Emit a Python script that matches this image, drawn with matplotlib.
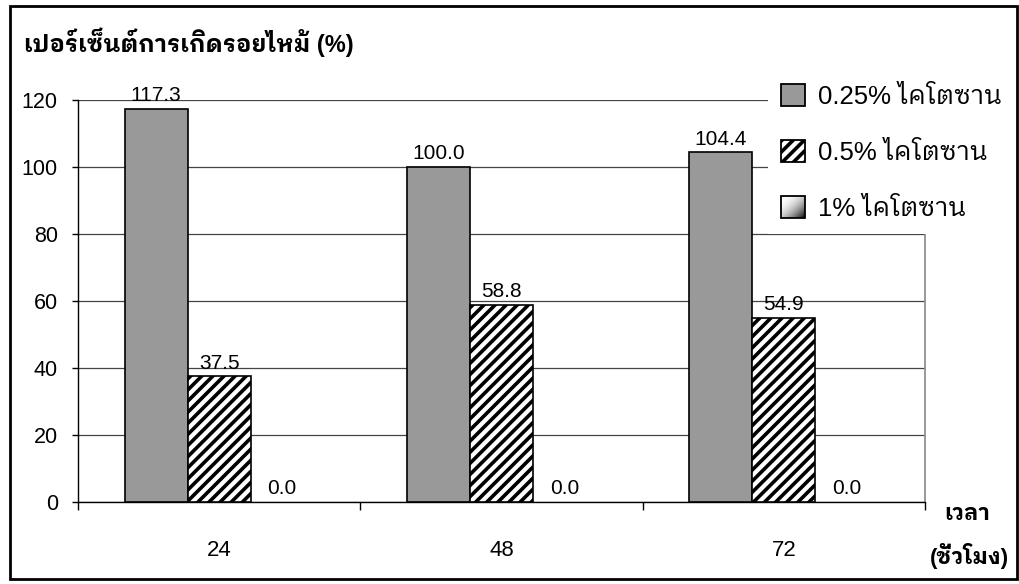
import numpy as np
import matplotlib
matplotlib.use("Agg")
import matplotlib.pyplot as plt
from matplotlib.patches import Patch, Rectangle
from matplotlib.legend_handler import HandlerBase
from matplotlib.image import BboxImage
from matplotlib.transforms import Bbox, TransformedBbox

# Latin text in an Arial-like face, Thai falls back to a looped Thai face
plt.rcParams['font.family'] = ['Liberation Sans', 'IBM Plex Sans Thai Looped', 'DejaVu Sans']
plt.rcParams['hatch.linewidth'] = 2.6

hours = ['24', '48', '72']
series = ['0.25% ไคโตซาน', '0.5% ไคโตซาน', '1% ไคโตซาน']
chitosan_025 = [117.3, 100.0, 104.4]
chitosan_05 = [37.5, 58.8, 54.9]
chitosan_1 = [0.0, 0.0, 0.0]


class GradientHandler(HandlerBase):
    # square shaded from white (top left) to black (bottom right)
    def create_artists(self, legend, orig_handle, xdescent, ydescent,
                       width, height, fontsize, trans):
        bb = TransformedBbox(Bbox.from_bounds(-xdescent, -ydescent, width, height), trans)
        g = np.linspace(0, 1, 64)
        shade = 1 - ((g[None, :] + g[:, None]) / 2) ** 2.2
        img = BboxImage(bb, cmap='gray', norm=plt.Normalize(0, 1), interpolation='bilinear')
        img.set_data(shade)
        edge = Rectangle((-xdescent, -ydescent), width, height, facecolor='none',
                         edgecolor='black', linewidth=1.3, transform=trans)
        return [img, edge]


fig = plt.figure(figsize=(10.2, 5.84), dpi=100)
ax = fig.add_axes([78 / 1020, 82 / 584, 847 / 1020, 402 / 584])

x = np.arange(len(hours))
w = 0.223
b1 = ax.bar(x - w, chitosan_025, w, color='#999999', edgecolor='black', linewidth=1.2, zorder=3)
b2 = ax.bar(x, chitosan_05, w, color='white', edgecolor='black', hatch='///', linewidth=1.2, zorder=3)
b3 = ax.bar(x + w, chitosan_1, w, color='white', edgecolor='none', linewidth=0, zorder=3)

for bars, vals in [(b1, chitosan_025), (b2, chitosan_05), (b3, chitosan_1)]:
    for r, v in zip(bars, vals):
        ax.annotate(f'{v:.1f}', (r.get_x() + r.get_width() / 2, v),
                    xytext=(0, 5.5), textcoords='offset points',
                    ha='center', va='baseline', fontsize=15, zorder=4)

ax.set_xlim(-0.5, 2.5)
ax.set_ylim(0, 120)
ax.set_yticks(np.arange(0, 121, 20))
ax.yaxis.grid(True, color='#444444', linewidth=0.9, zorder=0)
ax.set_axisbelow(True)
ax.tick_params(axis='y', length=4.5, width=1, pad=10, labelsize=15.5)

ax.set_xticks(x)
ax.set_xticklabels(hours)
ax.set_xticks([-0.5, 0.5, 1.5, 2.5], minor=True)
ax.tick_params(axis='x', which='major', length=0, pad=27, labelsize=16)
ax.tick_params(axis='x', which='minor', length=6, width=1, direction='out')

ax.spines['top'].set_visible(False)
ax.spines['right'].set_color('#888888')
ax.spines['right'].set_linewidth(1.2)
ax.spines['left'].set_linewidth(1)
ax.spines['bottom'].set_linewidth(1)

handles = [Patch(facecolor='#999999', edgecolor='black', linewidth=1.3),
           Patch(facecolor='white', edgecolor='black', hatch='///', linewidth=1.3),
           Patch(facecolor='white', edgecolor='black')]
leg = ax.legend(handles, series, loc='upper left', bbox_to_anchor=(768 / 1020, 1 - 71 / 584),
                bbox_transform=fig.transFigure, frameon=True, fontsize=18.5,
                handlelength=0.93, handleheight=0.93, handletextpad=0.5,
                labelspacing=1.22, borderpad=0.5, borderaxespad=0, fancybox=False,
                handler_map={handles[2]: GradientHandler()})
leg.get_frame().set_edgecolor('none')
leg.get_frame().set_facecolor('white')
leg.get_frame().set_alpha(1)
leg.set_zorder(5)

fig.text(24 / 1020, 1 - 42 / 584, 'เปอร์เซ็นต์การเกิดรอยไหม้ (%)', fontsize=17,
         fontweight='bold', va='center', ha='left')
fig.text(967 / 1020, 1 - 514 / 584, 'เวลา', fontsize=16, fontweight='bold',
         va='center', ha='center')
fig.text(969 / 1020, 1 - 556 / 584, '(ชั่วโมง)', fontsize=16, fontweight='bold',
         va='center', ha='center')

fig.add_artist(Rectangle((10 / 1020, 5 / 584), 1007 / 1020, 573 / 584, transform=fig.transFigure,
                         facecolor='none', edgecolor='black', linewidth=2))

fig.savefig('out.png', dpi=100)
